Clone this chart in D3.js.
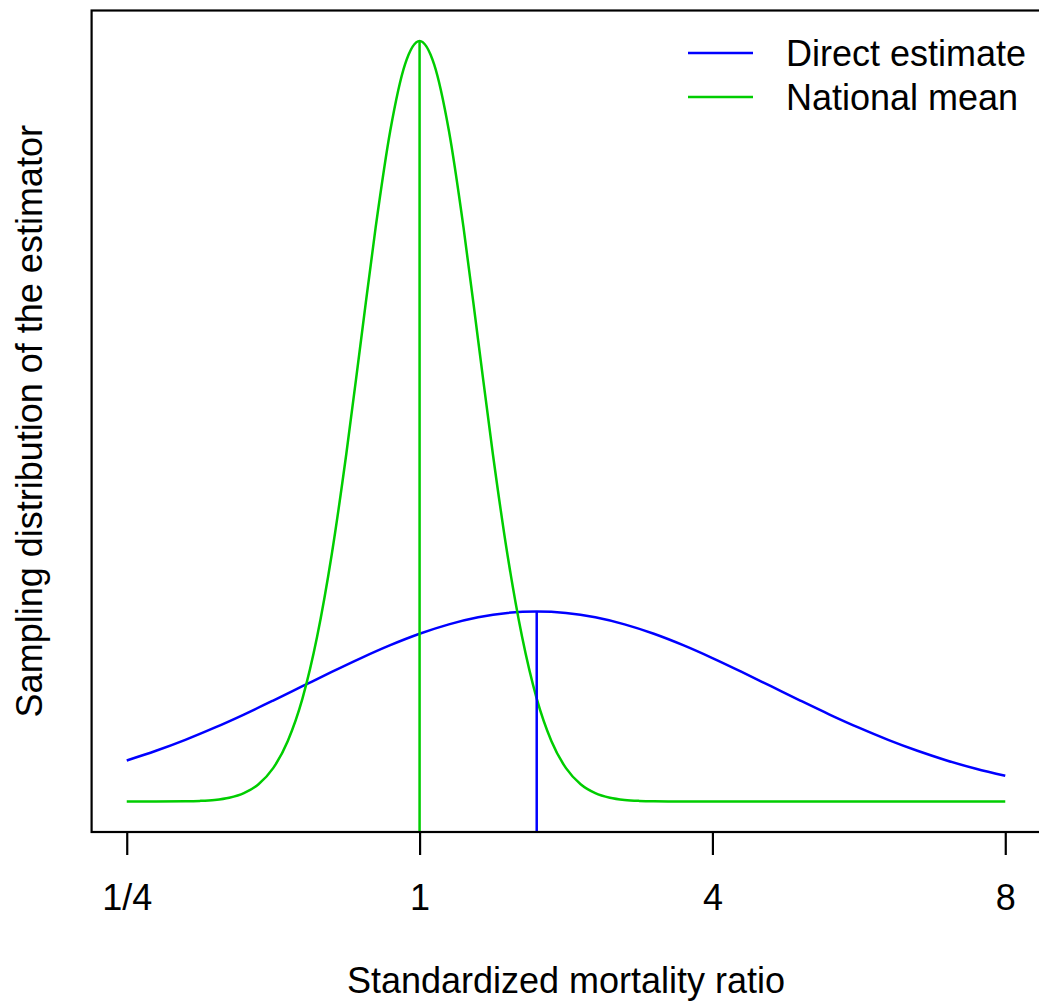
<!DOCTYPE html>
<html>
<head>
<meta charset="utf-8">
<script src="https://cdn.jsdelivr.net/npm/d3@7"></script>
<style>
  html, body { margin: 0; padding: 0; background: #fff; }
  svg { display: block; font-family: "Liberation Sans", Arial, sans-serif; }
</style>
</head>
<body>
<svg id="chart" width="1039" height="1001"></svg>
<script>
// Axis ticks: positions on the plotting scale and their SMR labels
const tickPos = [-1, 0, 1, 2];
const tickLabels = ["1/4", "1", "4", "8"];

// National mean: sampling density
const nationalX = [-1.0, -0.9, -0.8, -0.75, -0.7, -0.65, -0.6, -0.55, -0.5, -0.45, -0.4, -0.35,
  -0.3, -0.25, -0.2, -0.15, -0.1, -0.05, 0, 0.05, 0.1, 0.15, 0.2, 0.25, 0.3, 0.35, 0.4, 0.45,
  0.5, 0.55, 0.6, 0.65, 0.7, 0.75, 0.8, 0.9, 1.0, 1.5, 2.0];
const nationalY = [0, 0.0001, 0.0007, 0.0018, 0.0044, 0.0102, 0.0222, 0.0455, 0.0876, 0.159, 0.270, 0.432,
  0.648, 0.913, 1.210, 1.506, 1.760, 1.933, 1.995, 1.933, 1.760, 1.506, 1.210, 0.913, 0.648, 0.432, 0.270, 0.159,
  0.0876, 0.0455, 0.0222, 0.0102, 0.0044, 0.0018, 0.0007, 0.0001, 0, 0, 0];

// Direct estimate: sampling density
const directX = [-1.0, -0.9, -0.8, -0.7, -0.6, -0.5, -0.4, -0.3, -0.2, -0.1, 0, 0.1, 0.2, 0.3, 0.4,
  0.5, 0.6, 0.7, 0.8, 0.9, 1.0, 1.1, 1.2, 1.3, 1.4, 1.5, 1.6, 1.7, 1.8, 1.9, 2.0];
const directY = [0.1079, 0.1332, 0.1619, 0.1938, 0.2283, 0.2649, 0.3025, 0.3401, 0.3764, 0.4102, 0.4401,
  0.4648, 0.4833, 0.4948, 0.4987, 0.4948, 0.4833, 0.4648, 0.4401, 0.4102, 0.3764, 0.3401, 0.3025,
  0.2649, 0.2283, 0.1938, 0.1619, 0.1332, 0.1079, 0.0860, 0.0675];

// Centres of the two distributions (vertical reference lines)
const centreX = [0.4, 0];
const centreY = [0.4987, 1.995];

const seriesNames = ["Direct estimate", "National mean"];
const seriesColors = ["#0000FF", "#00CD00"];

const svg = d3.select("#chart");
const fontSize = 36;
const lineWidth = 2.5;

// Plot region with a 4% pad on each side of the data range
const xMin = -1, xMax = 2, yMin = 0, yMax = 1.995;
const xPad = (xMax - xMin) * 0.04, yPad = (yMax - yMin) * 0.04;
const x = d3.scaleLinear().domain([xMin - xPad, xMax + xPad]).range([91.6, 1040.4]);
const y = d3.scaleLinear().domain([yMin - yPad, yMax + yPad]).range([832, 10.5]);

// Curves
const line = d3.line().x(d => x(d[0])).y(d => y(d[1])).curve(d3.curveMonotoneX);
const series = [d3.zip(directX, directY), d3.zip(nationalX, nationalY)];
svg.append("g").selectAll("path").data(series).join("path")
  .attr("d", line)
  .attr("fill", "none")
  .attr("stroke", (d, i) => seriesColors[i])
  .attr("stroke-width", lineWidth)
  .attr("stroke-linejoin", "round");

// Vertical lines at each centre, from the bottom of the plot up to the density
svg.append("g").selectAll("line").data(centreX).join("line")
  .attr("x1", d => x(d)).attr("x2", d => x(d))
  .attr("y1", y(yMin - yPad)).attr("y2", (d, i) => y(centreY[i]))
  .attr("stroke", (d, i) => seriesColors[i])
  .attr("stroke-width", lineWidth);

// Frame
svg.append("rect")
  .attr("x", 91.6).attr("y", 10.5)
  .attr("width", 1040.4 - 91.6).attr("height", 832 - 10.5)
  .attr("fill", "none").attr("stroke", "#000").attr("stroke-width", 2.2);

// X axis
const xAxis = d3.axisBottom(x)
  .tickValues(tickPos)
  .tickFormat((d, i) => tickLabels[i])
  .tickSize(23)
  .tickPadding(29);
const gx = svg.append("g").attr("transform", "translate(0,832)").call(xAxis);
gx.select(".domain").remove();
gx.selectAll(".tick line").attr("stroke", "#000").attr("stroke-width", 2.2);
gx.selectAll(".tick text")
  .attr("fill", "#000")
  .style("font-size", fontSize + "px")
  .style("font-family", "'Liberation Sans', Arial, sans-serif");

// Axis titles
svg.append("text")
  .attr("x", (91.6 + 1040.4) / 2).attr("y", 993)
  .attr("text-anchor", "middle")
  .style("font-size", fontSize + "px")
  .text("Standardized mortality ratio");

svg.append("text")
  .attr("transform", `translate(42,${(10.5 + 832) / 2}) rotate(-90)`)
  .attr("text-anchor", "middle")
  .style("font-size", fontSize + "px")
  .text("Sampling distribution of the estimator");

// Legend
const legend = svg.append("g");
const legendRows = legend.selectAll("g").data(seriesNames).join("g")
  .attr("transform", (d, i) => `translate(0,${53 + i * 44})`);
legendRows.append("line")
  .attr("x1", 688).attr("x2", 753)
  .attr("stroke", (d, i) => seriesColors[i])
  .attr("stroke-width", lineWidth);
legendRows.append("text")
  .attr("x", 786).attr("dy", "0.36em")
  .style("font-size", fontSize + "px")
  .text(d => d);
</script>
</body>
</html>
